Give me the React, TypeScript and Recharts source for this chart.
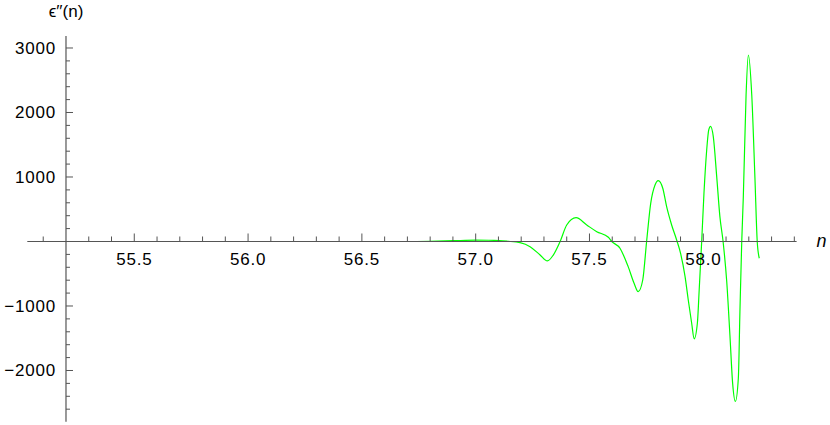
import React from 'react';
import { LineChart, Line, XAxis, YAxis, ReferenceLine, ReferenceDot } from 'recharts';

// curve samples
const nValues = [
  55.2, 55.6, 56.0, 56.4, 56.7, 56.8, 56.9, 57.0, 57.08, 57.14, 57.195, 57.239, 57.283, 57.315,
  57.341, 57.371, 57.4, 57.441, 57.488, 57.532, 57.583, 57.598, 57.634, 57.67, 57.696, 57.714,
  57.734, 57.751, 57.769, 57.788, 57.802, 57.822, 57.839, 57.861, 57.883, 57.9, 57.92, 57.934,
  57.949, 57.96, 57.974, 57.982, 57.993, 58.003, 58.015, 58.024, 58.032, 58.044, 58.059, 58.073,
  58.087, 58.103, 58.117, 58.129, 58.141, 58.154, 58.161, 58.169, 58.176, 58.188, 58.198, 58.213,
  58.227, 58.237, 58.246,
];
const epsValues = [
  0, 0, 0, 0, 0, 4, 12, 20, 18, 4, -18, -80, -210, -302,
  -210, 0, 256, 369, 256, 152, 65, 0, -105, -390, -648, -778,
  -597, 0, 592, 876, 943, 825, 540, 256, 23, -180, -546, -907,
  -1268, -1510, -1268, -752, 0, 747, 1419, 1729, 1785, 1625, 1005, 385,
  0, -620, -1450, -2200, -2480, -2121, -1088, 0, 700, 2271, 2891, 2271,
  980, 0, -260,
];

const xMajorTicks = [55.5, 56.0, 56.5, 57.0, 57.5, 58.0];
const xTickLabels = ['55.5', '56.0', '56.5', '57.0', '57.5', '58.0'];
const yMajorTicks = [-2000, -1000, 1000, 2000, 3000];
const yTickLabels = ['\u22122000', '\u22121000', '1000', '2000', '3000'];

const xOrigin = 55.2;
const xDomain = [55.03, 58.41];
const yDomain = [-2794, 3186];

const xMinorTicks = Array.from({ length: 34 }, (_, i) => 551 + i)
  .filter((k) => k % 5 !== 0 && k !== 552)
  .map((k) => k / 10);
const yMinorTicks = Array.from({ length: 28 }, (_, i) => (i - 13) * 200).filter((v) => v % 1000 !== 0);

const data = nValues.map((n, i) => ({ n, eps: epsValues[i] }));

const axisColor = '#555';
const font = '"Liberation Sans", Arial, sans-serif';

const xTick = (label?: string) => (props: any) => {
  const { cx, cy } = props;
  const len = label ? 8 : 5;
  return (
    <g>
      <line x1={cx} x2={cx} y1={cy} y2={cy - len} stroke={axisColor} strokeWidth={1} />
      {label && (
        <text x={cx} y={cy + 23.5} textAnchor="middle" fontFamily={font} fontSize={17} letterSpacing={0.8} fill="#000">
          {label}
        </text>
      )}
    </g>
  );
};

const yTick = (label?: string) => (props: any) => {
  const { cx, cy } = props;
  const len = label ? 7 : 4;
  return (
    <g>
      <line x1={cx} x2={cx + len} y1={cy} y2={cy} stroke={axisColor} strokeWidth={1} />
      {label && (
        <text x={cx - 10} y={cy + 6} textAnchor="end" fontFamily={font} fontSize={17} letterSpacing={0.8} fill="#000">
          {label}
        </text>
      )}
    </g>
  );
};

const xAxisName = (props: any) => (
  <text x={props.cx + 20} y={props.cy + 6} fontFamily={font} fontSize={18} fontStyle="italic" fill="#000">
    n
  </text>
);

const yAxisName = (props: any) => (
  <text x={props.cx} y={props.cy - 19} textAnchor="middle" fontFamily={font} fontSize={17} fill="#000">
    {'\u03F5\u2032\u2032(n)'}
  </text>
);

export default function App() {
  return (
    <div style={{ position: 'absolute', left: 0, top: 0 }}>
      <LineChart width={830} height={425} data={data} margin={{ top: 36, right: 33.4, bottom: 3.3, left: 27.3 }}>
        <XAxis dataKey="n" type="number" domain={xDomain} allowDataOverflow hide />
        <YAxis type="number" domain={yDomain} allowDataOverflow hide />
        <Line
          type="monotone"
          dataKey="eps"
          stroke="#00ff00"
          strokeWidth={1.2}
          dot={false}
          isAnimationActive={false}
        />
        <ReferenceLine y={0} stroke={axisColor} strokeWidth={1.2} />
        <ReferenceLine x={xOrigin} stroke={axisColor} strokeWidth={1.2} />
        {xMinorTicks.map((t) => (
          <ReferenceDot key={`xm${t}`} x={t} y={0} r={0} shape={xTick()} ifOverflow="visible" />
        ))}
        {xMajorTicks.map((t, i) => (
          <ReferenceDot key={`xM${t}`} x={t} y={0} r={0} shape={xTick(xTickLabels[i])} ifOverflow="visible" />
        ))}
        {yMinorTicks.map((v) => (
          <ReferenceDot key={`ym${v}`} x={xOrigin} y={v} r={0} shape={yTick()} ifOverflow="visible" />
        ))}
        {yMajorTicks.map((v, i) => (
          <ReferenceDot key={`yM${v}`} x={xOrigin} y={v} r={0} shape={yTick(yTickLabels[i])} ifOverflow="visible" />
        ))}
        <ReferenceDot x={xDomain[1]} y={0} r={0} shape={xAxisName} ifOverflow="visible" />
        <ReferenceDot x={xOrigin} y={yDomain[1]} r={0} shape={yAxisName} ifOverflow="visible" />
      </LineChart>
    </div>
  );
}
